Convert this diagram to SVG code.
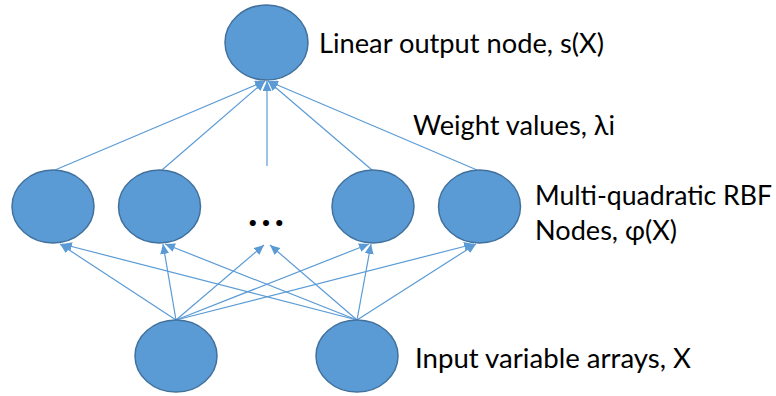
<svg xmlns="http://www.w3.org/2000/svg" width="776" height="396" viewBox="0 0 776 396">
<style>
.node{fill:#5B9BD5;stroke:#41719C;stroke-width:1.5}
.edge{stroke:#5B9BD5;stroke-width:1.2;fill:none;marker-end:url(#ah)}
.lbl{font-family:Lato,"Open Sans","DejaVu Sans",sans-serif;font-size:26px;fill:#000}
.dots{font-family:Lato,"Open Sans",sans-serif;font-size:40px;font-weight:bold;fill:#000}
</style>
<defs>
<marker id="ah" markerUnits="userSpaceOnUse" markerWidth="10" markerHeight="9" refX="10" refY="4.5" orient="auto">
<path d="M0,0 L10,4.5 L0,9 z" fill="#5B9BD5"/>
</marker>
</defs>
<rect width="776" height="396" fill="#fff"/>
<g id="connectors">
<line class="edge" x1="176" y1="320" x2="60" y2="244"/>
<line class="edge" x1="357" y1="320" x2="62" y2="244"/>
<line class="edge" x1="176" y1="320" x2="163" y2="244"/>
<line class="edge" x1="357" y1="320" x2="165" y2="244"/>
<line class="edge" x1="176" y1="320" x2="264" y2="245"/>
<line class="edge" x1="357" y1="320" x2="270" y2="245"/>
<line class="edge" x1="176" y1="320" x2="369" y2="244"/>
<line class="edge" x1="357" y1="320" x2="371" y2="244"/>
<line class="edge" x1="176" y1="320" x2="474" y2="244"/>
<line class="edge" x1="357" y1="320" x2="476" y2="244"/>
<line class="edge" x1="55" y1="170" x2="265" y2="81"/>
<line class="edge" x1="162" y1="170" x2="265" y2="81"/>
<line class="edge" x1="267" y1="166" x2="267" y2="81"/>
<line class="edge" x1="372" y1="170" x2="268" y2="81"/>
<line class="edge" x1="477" y1="170" x2="268" y2="81"/>
</g>
<g id="out"><ellipse class="node" cx="266.5" cy="42.5" rx="41.5" ry="37.5"/></g>
<g id="rbf1"><ellipse class="node" cx="53" cy="206.5" rx="41" ry="36.5"/></g>
<g id="rbf2"><ellipse class="node" cx="159.5" cy="206.5" rx="41" ry="36.5"/></g>
<g id="rbf3"><ellipse class="node" cx="373" cy="206.5" rx="41" ry="36.5"/></g>
<g id="rbf4"><ellipse class="node" cx="479.5" cy="206.5" rx="41" ry="36.5"/></g>
<g id="in1"><ellipse class="node" cx="176" cy="356" rx="41" ry="36"/></g>
<g id="in2"><ellipse class="node" cx="357" cy="356" rx="41" ry="36"/></g>
<g id="ellipsis"><text class="dots" x="248" y="226" textLength="36" lengthAdjust="spacing">...</text></g>
<g id="labels">
<text class="lbl" x="319" y="53" textLength="285" lengthAdjust="spacingAndGlyphs">Linear output node, s(X)</text>
<text class="lbl" x="413" y="135" textLength="202" lengthAdjust="spacingAndGlyphs">Weight values, λi</text>
<text class="lbl" x="535" y="205" textLength="237" lengthAdjust="spacingAndGlyphs">Multi-quadratic RBF</text>
<text class="lbl" x="535" y="240" textLength="142" lengthAdjust="spacingAndGlyphs">Nodes, φ(X)</text>
<text class="lbl" x="415" y="368" textLength="276" lengthAdjust="spacingAndGlyphs">Input variable arrays, X</text>
</g>
</svg>
